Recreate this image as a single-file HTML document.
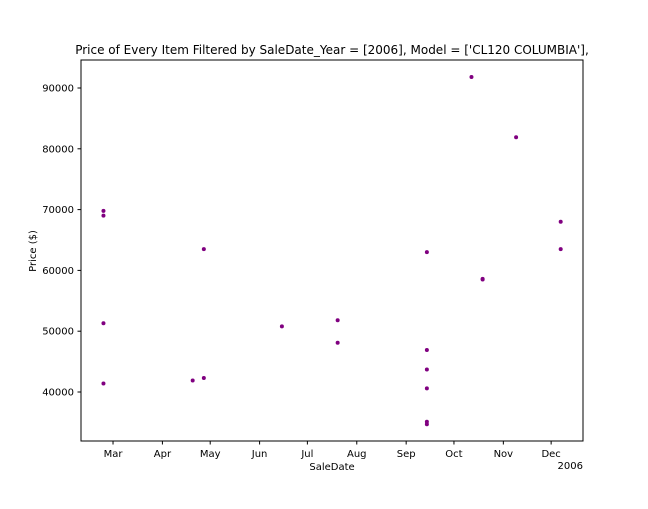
<!DOCTYPE html>
<html><head><meta charset="utf-8"><style>
body{margin:0;background:#fff;font-family:"Liberation Sans","DejaVu Sans",sans-serif}
svg text{font-family:"DejaVu Sans","Liberation Sans",sans-serif;font-size:10px;fill:#000}
</style></head><body>
<svg id="chart" width="648" height="504"></svg>
<script>
const saleDates=["2006-02-23","2006-02-23","2006-02-23","2006-02-23","2006-04-20","2006-04-27","2006-04-27","2006-06-15","2006-07-20","2006-07-20","2006-09-14","2006-09-14","2006-09-14","2006-09-14","2006-09-14","2006-09-14","2006-10-12","2006-10-19","2006-10-19","2006-11-09","2006-12-07","2006-12-07"];
const prices=[69800,69000,51300,41400,41900,63500,42300,50800,51800,48100,63000,46900,43700,40600,35100,34700,91800,58600,58500,81900,68000,63500];
const monthLabels=["Mar","Apr","May","Jun","Jul","Aug","Sep","Oct","Nov","Dec"];
const monthStarts=["2006-03-01","2006-04-01","2006-05-01","2006-06-01","2006-07-01","2006-08-01","2006-09-01","2006-10-01","2006-11-01","2006-12-01"];
const yTicks=[40000,50000,60000,70000,80000,90000];

const NS="http://www.w3.org/2000/svg";
const svg=document.getElementById('chart');
const L=81,R=583,T=60,B=441;
function doy(s){const d=new Date(s+"T00:00:00Z");return (d-Date.UTC(2006,0,1))/86400000;}
const xMin=38.9,xMax=354,yMin=31941,yMax=94605;
const xs=v=>L+(doy(v)-xMin)/(xMax-xMin)*(R-L);
const ys=v=>B-(v-yMin)/(yMax-yMin)*(B-T);
function mk(tag,attrs,txt){const e=document.createElementNS(NS,tag);for(const k in attrs)e.setAttribute(k,attrs[k]);if(txt!==undefined)e.textContent=txt;svg.appendChild(e);return e;}

let e=mk('rect',{x:L,y:T,width:R-L,height:B-T,fill:'none',stroke:'#000','stroke-width':1});



monthStarts.forEach((m,i)=>{const x=xs(m);
 let t=mk('line',{x1:x,x2:x,y1:B,y2:B+3.5,stroke:'#000'});
 
 
 let l=mk('text',{x:x,y:B+16,'text-anchor':'middle'},monthLabels[i]);
 
 
});
yTicks.forEach(v=>{const y=ys(v);
 let t=mk('line',{x1:L-3.5,x2:L,y1:y,y2:y,stroke:'#000'});
 
 
 let l=mk('text',{x:L-7,y:y+3.5,'text-anchor':'end'},v);
 
 
});
e=mk('text',{x:583,y:469,'text-anchor':'end'},'2006');


e=mk('text',{x:332,y:470,'text-anchor':'middle'},'SaleDate');


e=mk('text',{x:36,y:251,'text-anchor':'middle',transform:'rotate(-90 36 251)'},'Price ($)');


e=mk('text',{x:332,y:54,'text-anchor':'middle',style:'font-size:12px'},"Price of Every Item Filtered by SaleDate_Year = [2006], Model = ['CL120 COLUMBIA'],");



saleDates.forEach((d,i)=>{
 let c=mk('circle',{cx:xs(d),cy:ys(prices[i]),r:2,fill:'#800080'});
 
 
});
</script>
</body></html>
